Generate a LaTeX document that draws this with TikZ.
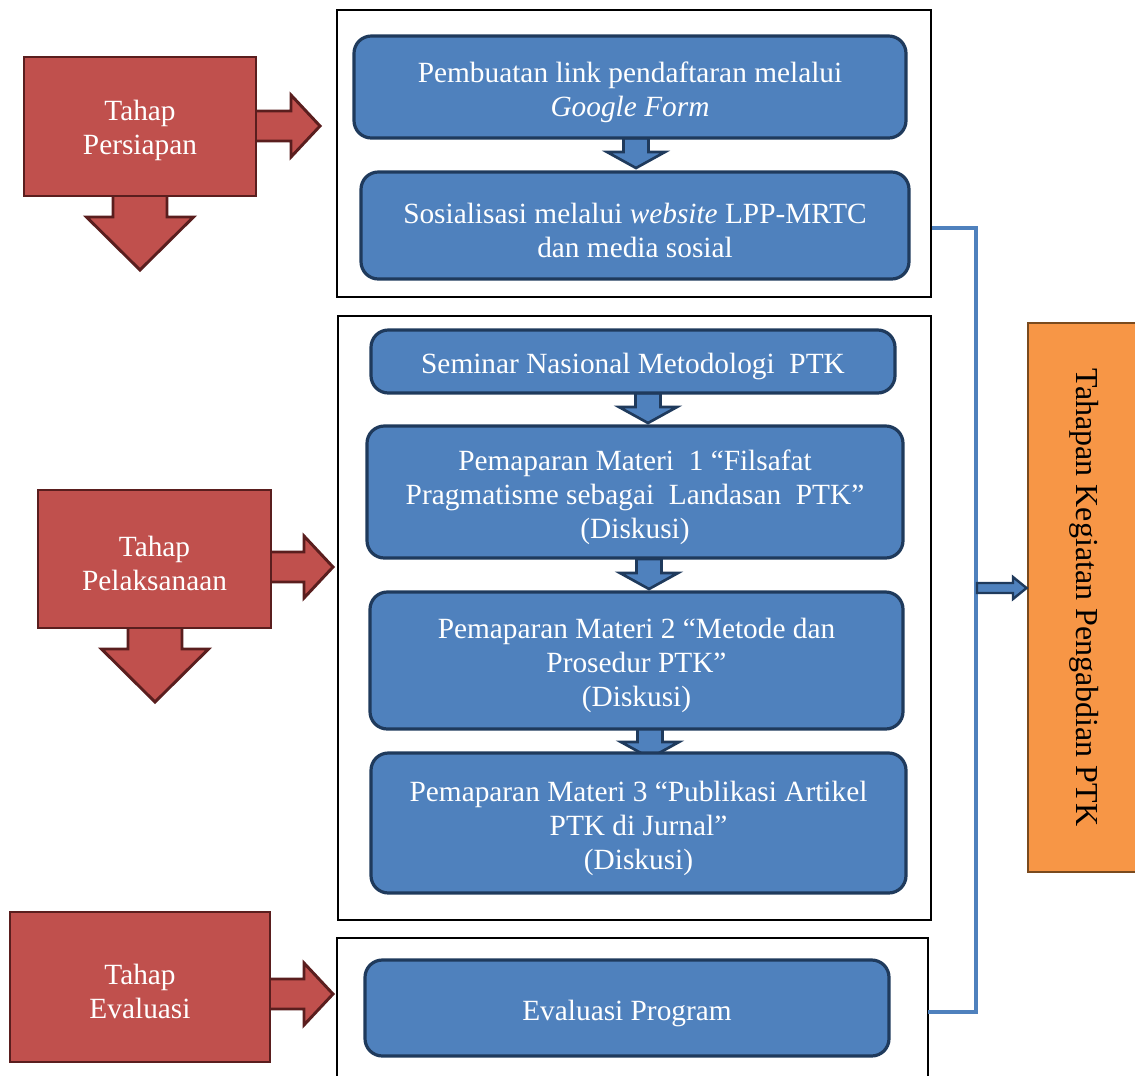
\documentclass[tikz,border=0pt]{standalone}
\usepackage{fontspec}
\setmainfont{Liberation Serif}
\definecolor{stepblue}{HTML}{4F81BD}
\definecolor{stepnavy}{HTML}{1F3A5C}
\definecolor{stepred}{HTML}{C0504D}
\definecolor{stepmaroon}{HTML}{5A1E1E}
\definecolor{steporange}{HTML}{F79646}
\definecolor{stepbrown}{HTML}{7A4A1E}
\begin{document}
\begin{tikzpicture}[x=0.75pt,y=-0.75pt,
  txt/.style={text=white,align=center,font=\fontsize{22}{25.5}\selectfont,inner sep=0pt},
  bluebox/.style={draw=stepnavy,line width=2.4pt,fill=stepblue,rounded corners=13pt,inner sep=0pt,
    label={[txt,yshift=-3.75pt]center:#1}},
  redbox/.style={draw=stepmaroon,line width=2.2pt,fill=stepred,inner sep=0pt,
    label={[txt,yshift=-3pt]center:#1}},
  framebox/.style={draw=black,line width=2.2pt,inner sep=0pt},
  flowarrow/.style={fill=stepblue,draw=stepnavy,line width=2pt,line join=miter},
  redarrow/.style={fill=stepred,draw=stepmaroon,line width=2.2pt,line join=miter},
  bracket/.style={draw=stepblue,line width=2.4pt},
  bluedown/.pic={\draw[flowarrow] (-12.5,-30) -- (-12.5,-16) -- (-29,-16) -- (0,0)
      -- (29,-16) -- (12.5,-16) -- (12.5,-30) -- cycle;},
  redright/.pic={\draw[redarrow] (-75,-15) -- (-29,-15) -- (-29,-31) -- (0,0)
      -- (-29,31) -- (-29,15) -- (-75,15) -- cycle;},
  reddown/.pic={\draw[redarrow] (-27,-80) -- (-27,-53) -- (-53.5,-53) -- (0,0)
      -- (53.5,-53) -- (27,-53) -- (27,-80) -- cycle;}
]
\useasboundingbox (0,0) rectangle (1135,1075);

% outer frames of the three stages
\node[framebox,minimum width=445.5pt,minimum height=215.25pt] (f1) at (634,153.5) {};
\node[framebox,minimum width=444.75pt,minimum height=453pt] (f2) at (634.5,618) {};
\draw[framebox] (337,1085) -- (337,938) coordinate (f3nw) -- (928,938) coordinate (f3ne) -- (928,1085);

% arrows between the steps (drawn before the boxes so the shafts tuck under)
\pic at (636,168) {bluedown};
\pic at (648,423) {bluedown};
\pic at (649,589) {bluedown};
\pic at (650,758) {bluedown};

% steps
\node[bluebox={Pembuatan link pendaftaran melalui\\\textit{Google Form}},
  minimum width=414pt,minimum height=76.5pt] (b1) at (630,87) {};
\node[bluebox={Sosialisasi melalui \textit{website} LPP-MRTC\\dan media sosial},
  minimum width=411pt,minimum height=80.25pt] (b2) at (635,225.5) {};
\node[bluebox={Seminar Nasional Metodologi\ \ PTK},
  minimum width=393pt,minimum height=47.25pt] (b3) at (633,361.5) {};
\node[bluebox={Pemaparan Materi\ \ 1 “Filsafat\\Pragmatisme sebagai\ \ Landasan\ \ PTK”\\(Diskusi)},
  minimum width=402pt,minimum height=99pt] (b4) at (635,492) {};
\node[bluebox={Pemaparan Materi 2 “Metode dan\\Prosedur PTK”\\(Diskusi)},
  minimum width=399.75pt,minimum height=102.75pt] (b5) at (636.5,660.5) {};
\node[bluebox={Pemaparan Materi 3 “Publikasi Artikel\\PTK di Jurnal”\\(Diskusi)},
  minimum width=401.25pt,minimum height=105pt] (b6) at (638.5,823) {};
\node[bluebox={Evaluasi Program},
  minimum width=393pt,minimum height=72pt] (b7) at (627,1008) {};

% stage labels with their arrows
\pic at (320,126) {redright};
\pic at (140,270) {reddown};
\pic at (333,567) {redright};
\pic at (155,702) {reddown};
\pic at (333,994) {redright};
\node[redbox={Tahap\\Persiapan},minimum width=174pt,minimum height=104.25pt] (r1) at (140,126.5) {};
\node[redbox={Tahap\\Pelaksanaan},minimum width=174.75pt,minimum height=103.5pt] (r2) at (154.5,559) {};
\node[redbox={Tahap\\Evaluasi},minimum width=195pt,minimum height=112.5pt] (r3) at (140,987) {};

% summary box
\node[draw=stepbrown,line width=2.2pt,fill=steporange,rotate=-90,
  minimum width=411.75pt,minimum height=84pt,inner sep=0pt,
  font=\fontsize{24}{28}\selectfont] (sum) at (1084,597.5) {Tahapan Kegiatan Pengabdian PTK};

% bracket joining the stages to the summary
\coordinate (jt) at (976,228);
\coordinate (jb) at (976,1012);
\draw[bracket] (f1.east |- jt) -- (jt) -- (jb) -- (f3ne |- jb);
\draw[flowarrow,line width=1.8pt] (977,583) -- (1013,583) -- (1013,577) -- (sum.south |- 0,588)
  -- (1013,599) -- (1013,593) -- (977,593) -- cycle;
\end{tikzpicture}
\end{document}
